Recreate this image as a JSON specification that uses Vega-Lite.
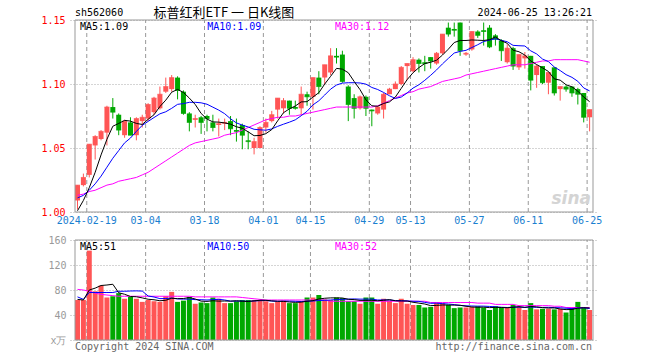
{
"$schema": "https://vega.github.io/schema/vega-lite/v6.json",
"width": 528, "height": 320,
"autosize": {"type": "none"},
"padding": {"left": 70, "top": 20, "right": 62, "bottom": 20},
"background": "#ffffff",
"config": {"view": {"stroke": null}, "text": {"font": "DejaVu Sans Mono", "fontSize": 10}, "axis": {"labelFont": "DejaVu Sans Mono", "labelFontSize": 10}},
"data": {"values": [
{"i":0,"o":1.009,"h":1.021,"l":1.002,"c":1.021,"v":64,"ma5":1.001,"ma10":1.011,"ma30":1.013,"vma5":65,"vma10":69,"vma30":81},
{"i":1,"o":1.021,"h":1.030,"l":1.020,"c":1.027,"v":64,"ma5":1.009,"ma10":1.013,"ma30":1.014,"vma5":64,"vma10":65,"vma30":80},
{"i":2,"o":1.029,"h":1.053,"l":1.027,"c":1.053,"v":143,"ma5":1.019,"ma10":1.017,"ma30":1.016,"vma5":80,"vma10":76,"vma30":78,"lbl":"2024-02-19"},
{"i":3,"o":1.052,"h":1.060,"l":1.041,"c":1.059,"v":78,"ma5":1.031,"ma10":1.022,"ma30":1.017,"vma5":83,"vma10":76,"vma30":75},
{"i":4,"o":1.057,"h":1.064,"l":1.056,"c":1.063,"v":87,"ma5":1.0446,"ma10":1.028,"ma30":1.019,"vma5":87.2,"vma10":76,"vma30":73},
{"i":5,"o":1.062,"h":1.083,"l":1.052,"c":1.082,"v":68,"ma5":1.0568,"ma10":1.035,"ma30":1.021,"vma5":88,"vma10":76,"vma30":72},
{"i":6,"o":1.082,"h":1.089,"l":1.073,"c":1.078,"v":70,"ma5":1.067,"ma10":1.042,"ma30":1.022,"vma5":89.2,"vma10":76,"vma30":71},
{"i":7,"o":1.076,"h":1.077,"l":1.060,"c":1.064,"v":75,"ma5":1.0692,"ma10":1.048,"ma30":1.024,"vma5":75.6,"vma10":78,"vma30":70},
{"i":8,"o":1.060,"h":1.072,"l":1.058,"c":1.071,"v":66,"ma5":1.0716,"ma10":1.054,"ma30":1.025,"vma5":73.2,"vma10":78,"vma30":70},
{"i":9,"o":1.070,"h":1.074,"l":1.060,"c":1.060,"v":69,"ma5":1.071,"ma10":1.0578,"ma30":1.026,"vma5":69.6,"vma10":78.4,"vma30":70},
{"i":10,"o":1.060,"h":1.074,"l":1.056,"c":1.073,"v":66,"ma5":1.0692,"ma10":1.063,"ma30":1.027,"vma5":69.2,"vma10":78.6,"vma30":70},
{"i":11,"o":1.071,"h":1.076,"l":1.066,"c":1.074,"v":61,"ma5":1.0684,"ma10":1.0677,"ma30":1.029,"vma5":67.4,"vma10":78.3,"vma30":70},
{"i":12,"o":1.073,"h":1.085,"l":1.071,"c":1.084,"v":64,"ma5":1.0724,"ma10":1.0708,"ma30":1.031,"vma5":65.2,"vma10":70.4,"vma30":70,"lbl":"03-04"},
{"i":13,"o":1.078,"h":1.090,"l":1.076,"c":1.089,"v":62,"ma5":1.076,"ma10":1.0738,"ma30":1.034,"vma5":64.4,"vma10":68.8,"vma30":70},
{"i":14,"o":1.081,"h":1.098,"l":1.080,"c":1.092,"v":61,"ma5":1.0824,"ma10":1.0767,"ma30":1.037,"vma5":62.8,"vma10":66.2,"vma30":70},
{"i":15,"o":1.094,"h":1.105,"l":1.093,"c":1.098,"v":70,"ma5":1.0874,"ma10":1.0783,"ma30":1.040,"vma5":63.6,"vma10":66.4,"vma30":70},
{"i":16,"o":1.096,"h":1.107,"l":1.094,"c":1.105,"v":77,"ma5":1.0936,"ma10":1.081,"ma30":1.043,"vma5":66.8,"vma10":67.1,"vma30":70},
{"i":17,"o":1.105,"h":1.106,"l":1.088,"c":1.095,"v":61,"ma5":1.0958,"ma10":1.0841,"ma30":1.046,"vma5":66.2,"vma10":65.7,"vma30":70},
{"i":18,"o":1.094,"h":1.095,"l":1.076,"c":1.077,"v":63,"ma5":1.0934,"ma10":1.0847,"ma30":1.049,"vma5":66.4,"vma10":65.4,"vma30":70},
{"i":19,"o":1.077,"h":1.078,"l":1.063,"c":1.070,"v":69,"ma5":1.089,"ma10":1.0857,"ma30":1.052,"vma5":68,"vma10":65.4,"vma30":70},
{"i":20,"o":1.072,"h":1.076,"l":1.066,"c":1.073,"v":58,"ma5":1.084,"ma10":1.0857,"ma30":1.054,"vma5":65.6,"vma10":64.6,"vma30":69},
{"i":21,"o":1.074,"h":1.075,"l":1.061,"c":1.070,"v":60,"ma5":1.077,"ma10":1.0853,"ma30":1.055,"vma5":62.2,"vma10":64.5,"vma30":69},
{"i":22,"o":1.075,"h":1.076,"l":1.063,"c":1.073,"v":59,"ma5":1.0726,"ma10":1.0842,"ma30":1.056,"vma5":61.8,"vma10":64,"vma30":69,"lbl":"03-18"},
{"i":23,"o":1.070,"h":1.076,"l":1.063,"c":1.066,"v":68,"ma5":1.0704,"ma10":1.0819,"ma30":1.057,"vma5":62.8,"vma10":64.6,"vma30":69},
{"i":24,"o":1.068,"h":1.073,"l":1.059,"c":1.069,"v":66,"ma5":1.0702,"ma10":1.0796,"ma30":1.058,"vma5":62.2,"vma10":65.1,"vma30":69},
{"i":25,"o":1.069,"h":1.073,"l":1.064,"c":1.070,"v":59,"ma5":1.0696,"ma10":1.0768,"ma30":1.060,"vma5":62.4,"vma10":64,"vma30":69},
{"i":26,"o":1.071,"h":1.075,"l":1.060,"c":1.065,"v":59,"ma5":1.0686,"ma10":1.0728,"ma30":1.061,"vma5":62.2,"vma10":62.2,"vma30":69},
{"i":27,"o":1.064,"h":1.073,"l":1.055,"c":1.063,"v":62,"ma5":1.0666,"ma10":1.0696,"ma30":1.062,"vma5":62.8,"vma10":62.3,"vma30":69},
{"i":28,"o":1.068,"h":1.069,"l":1.049,"c":1.060,"v":64,"ma5":1.0654,"ma10":1.0679,"ma30":1.064,"vma5":62,"vma10":62.4,"vma30":68},
{"i":29,"o":1.056,"h":1.063,"l":1.049,"c":1.055,"v":64,"ma5":1.0626,"ma10":1.0664,"ma30":1.066,"vma5":61.6,"vma10":61.9,"vma30":67},
{"i":30,"o":1.050,"h":1.058,"l":1.045,"c":1.055,"v":64,"ma5":1.0596,"ma10":1.0646,"ma30":1.068,"vma5":62.6,"vma10":62.5,"vma30":66},
{"i":31,"o":1.050,"h":1.067,"l":1.050,"c":1.066,"v":64,"ma5":1.0598,"ma10":1.0642,"ma30":1.070,"vma5":63.6,"vma10":62.9,"vma30":65},
{"i":32,"o":1.066,"h":1.073,"l":1.062,"c":1.070,"v":62,"ma5":1.0612,"ma10":1.0639,"ma30":1.072,"vma5":63.6,"vma10":63.2,"vma30":64,"lbl":"04-01"},
{"i":33,"o":1.071,"h":1.079,"l":1.070,"c":1.076,"v":59,"ma5":1.0644,"ma10":1.0649,"ma30":1.073,"vma5":62.6,"vma10":62.3,"vma30":64},
{"i":34,"o":1.080,"h":1.089,"l":1.073,"c":1.089,"v":61,"ma5":1.0712,"ma10":1.0669,"ma30":1.074,"vma5":62,"vma10":61.8,"vma30":64},
{"i":35,"o":1.081,"h":1.089,"l":1.077,"c":1.087,"v":63,"ma5":1.0776,"ma10":1.0686,"ma30":1.074,"vma5":61.8,"vma10":62.2,"vma30":64},
{"i":36,"o":1.087,"h":1.087,"l":1.076,"c":1.081,"v":59,"ma5":1.0806,"ma10":1.0702,"ma30":1.075,"vma5":60.8,"vma10":62.2,"vma30":64},
{"i":37,"o":1.082,"h":1.087,"l":1.080,"c":1.081,"v":59,"ma5":1.0828,"ma10":1.072,"ma30":1.075,"vma5":60.2,"vma10":61.9,"vma30":64},
{"i":38,"o":1.081,"h":1.098,"l":1.076,"c":1.092,"v":61,"ma5":1.086,"ma10":1.0752,"ma30":1.076,"vma5":60.6,"vma10":61.6,"vma30":64},
{"i":39,"o":1.092,"h":1.094,"l":1.083,"c":1.090,"v":68,"ma5":1.0862,"ma10":1.0787,"ma30":1.077,"vma5":62,"vma10":62,"vma30":64},
{"i":40,"o":1.090,"h":1.105,"l":1.080,"c":1.105,"v":68,"ma5":1.0898,"ma10":1.0837,"ma30":1.078,"vma5":63,"vma10":62.4,"vma30":64,"lbl":"04-15"},
{"i":41,"o":1.105,"h":1.110,"l":1.092,"c":1.098,"v":72,"ma5":1.0932,"ma10":1.0869,"ma30":1.079,"vma5":65.6,"vma10":63.2,"vma30":64},
{"i":42,"o":1.105,"h":1.115,"l":1.100,"c":1.115,"v":65,"ma5":1.1,"ma10":1.0914,"ma30":1.080,"vma5":66.8,"vma10":63.5,"vma30":64},
{"i":43,"o":1.109,"h":1.128,"l":1.107,"c":1.122,"v":64,"ma5":1.106,"ma10":1.096,"ma30":1.081,"vma5":67.4,"vma10":64,"vma30":62},
{"i":44,"o":1.122,"h":1.128,"l":1.116,"c":1.121,"v":68,"ma5":1.1122,"ma10":1.0992,"ma30":1.082,"vma5":67.4,"vma10":64.7,"vma30":62},
{"i":45,"o":1.123,"h":1.126,"l":1.101,"c":1.102,"v":67,"ma5":1.1116,"ma10":1.1007,"ma30":1.082,"vma5":67.2,"vma10":65.1,"vma30":62},
{"i":46,"o":1.098,"h":1.099,"l":1.071,"c":1.084,"v":62,"ma5":1.1088,"ma10":1.101,"ma30":1.082,"vma5":65.2,"vma10":65.4,"vma30":62},
{"i":47,"o":1.089,"h":1.092,"l":1.073,"c":1.081,"v":62,"ma5":1.102,"ma10":1.101,"ma30":1.082,"vma5":64.6,"vma10":65.7,"vma30":62},
{"i":48,"o":1.081,"h":1.091,"l":1.080,"c":1.090,"v":58,"ma5":1.0956,"ma10":1.1008,"ma30":1.082,"vma5":63.4,"vma10":65.4,"vma30":62},
{"i":49,"o":1.090,"h":1.091,"l":1.075,"c":1.081,"v":68,"ma5":1.0876,"ma10":1.0999,"ma30":1.082,"vma5":63.4,"vma10":65.4,"vma30":62},
{"i":50,"o":1.080,"h":1.080,"l":1.067,"c":1.079,"v":68,"ma5":1.083,"ma10":1.0973,"ma30":1.082,"vma5":63.6,"vma10":65.4,"vma30":62,"lbl":"04-29"},
{"i":51,"o":1.077,"h":1.083,"l":1.076,"c":1.082,"v":58,"ma5":1.0826,"ma10":1.0957,"ma30":1.083,"vma5":62.8,"vma10":64,"vma30":62},
{"i":52,"o":1.080,"h":1.093,"l":1.073,"c":1.092,"v":66,"ma5":1.0848,"ma10":1.0934,"ma30":1.085,"vma5":63.6,"vma10":64.1,"vma30":62},
{"i":53,"o":1.092,"h":1.097,"l":1.092,"c":1.096,"v":63,"ma5":1.086,"ma10":1.0908,"ma30":1.087,"vma5":64.6,"vma10":64,"vma30":62},
{"i":54,"o":1.096,"h":1.102,"l":1.096,"c":1.100,"v":59,"ma5":1.0898,"ma10":1.0887,"ma30":1.089,"vma5":62.8,"vma10":63.1,"vma30":62},
{"i":55,"o":1.100,"h":1.114,"l":1.099,"c":1.113,"v":66,"ma5":1.0966,"ma10":1.0898,"ma30":1.091,"vma5":62.4,"vma10":63,"vma30":62},
{"i":56,"o":1.114,"h":1.116,"l":1.103,"c":1.116,"v":58,"ma5":1.1034,"ma10":1.093,"ma30":1.093,"vma5":62.4,"vma10":62.6,"vma30":62},
{"i":57,"o":1.110,"h":1.121,"l":1.109,"c":1.119,"v":56,"ma5":1.1088,"ma10":1.0968,"ma30":1.094,"vma5":60.4,"vma10":62,"vma30":62,"lbl":"05-13"},
{"i":58,"o":1.119,"h":1.120,"l":1.109,"c":1.116,"v":56,"ma5":1.1128,"ma10":1.0994,"ma30":1.096,"vma5":59,"vma10":61.8,"vma30":62},
{"i":59,"o":1.117,"h":1.122,"l":1.110,"c":1.116,"v":52,"ma5":1.116,"ma10":1.1029,"ma30":1.097,"vma5":57.6,"vma10":60.2,"vma30":62},
{"i":60,"o":1.121,"h":1.121,"l":1.112,"c":1.118,"v":53,"ma5":1.117,"ma10":1.1068,"ma30":1.098,"vma5":55,"vma10":58.7,"vma30":60},
{"i":61,"o":1.116,"h":1.125,"l":1.115,"c":1.124,"v":60,"ma5":1.1186,"ma10":1.111,"ma30":1.100,"vma5":55.4,"vma10":58.9,"vma30":60},
{"i":62,"o":1.124,"h":1.139,"l":1.123,"c":1.139,"v":59,"ma5":1.1226,"ma10":1.1157,"ma30":1.102,"vma5":56,"vma10":58.2,"vma30":60},
{"i":63,"o":1.144,"h":1.148,"l":1.137,"c":1.139,"v":56,"ma5":1.1272,"ma10":1.12,"ma30":1.103,"vma5":56,"vma10":57.5,"vma30":60},
{"i":64,"o":1.143,"h":1.148,"l":1.137,"c":1.142,"v":51,"ma5":1.1324,"ma10":1.1242,"ma30":1.104,"vma5":55.8,"vma10":56.7,"vma30":60},
{"i":65,"o":1.148,"h":1.148,"l":1.122,"c":1.126,"v":52,"ma5":1.134,"ma10":1.1255,"ma30":1.105,"vma5":55.6,"vma10":55.3,"vma30":60},
{"i":66,"o":1.123,"h":1.125,"l":1.122,"c":1.124,"v":52,"ma5":1.134,"ma10":1.1263,"ma30":1.107,"vma5":54,"vma10":54.7,"vma30":60},
{"i":67,"o":1.127,"h":1.141,"l":1.126,"c":1.141,"v":53,"ma5":1.1344,"ma10":1.1285,"ma30":1.108,"vma5":52.8,"vma10":54.4,"vma30":60,"lbl":"05-27"},
{"i":68,"o":1.141,"h":1.142,"l":1.136,"c":1.138,"v":54,"ma5":1.1342,"ma10":1.1307,"ma30":1.109,"vma5":52.4,"vma10":54.2,"vma30":59},
{"i":69,"o":1.142,"h":1.148,"l":1.130,"c":1.141,"v":52,"ma5":1.134,"ma10":1.1332,"ma30":1.110,"vma5":52.6,"vma10":54.2,"vma30":59},
{"i":70,"o":1.144,"h":1.146,"l":1.128,"c":1.129,"v":48,"ma5":1.1346,"ma10":1.1343,"ma30":1.111,"vma5":51.8,"vma10":53.7,"vma30":59},
{"i":71,"o":1.138,"h":1.139,"l":1.130,"c":1.135,"v":54,"ma5":1.1368,"ma10":1.1354,"ma30":1.112,"vma5":52.2,"vma10":53.1,"vma30":57},
{"i":72,"o":1.134,"h":1.135,"l":1.118,"c":1.126,"v":52,"ma5":1.1338,"ma10":1.1341,"ma30":1.113,"vma5":52,"vma10":52.4,"vma30":57},
{"i":73,"o":1.117,"h":1.131,"l":1.116,"c":1.128,"v":52,"ma5":1.1318,"ma10":1.133,"ma30":1.114,"vma5":51.6,"vma10":52,"vma30":57},
{"i":74,"o":1.128,"h":1.129,"l":1.111,"c":1.114,"v":56,"ma5":1.1264,"ma10":1.1302,"ma30":1.115,"vma5":52.4,"vma10":52.5,"vma30":57},
{"i":75,"o":1.113,"h":1.123,"l":1.111,"c":1.123,"v":53,"ma5":1.1252,"ma10":1.1299,"ma30":1.115,"vma5":53.4,"vma10":52.6,"vma30":55},
{"i":76,"o":1.120,"h":1.125,"l":1.112,"c":1.122,"v":48,"ma5":1.1226,"ma10":1.1297,"ma30":1.115,"vma5":52.2,"vma10":52.2,"vma30":55},
{"i":77,"o":1.122,"h":1.122,"l":1.095,"c":1.103,"v":59,"ma5":1.118,"ma10":1.1259,"ma30":1.116,"vma5":53.6,"vma10":52.8,"vma30":55,"lbl":"06-11"},
{"i":78,"o":1.107,"h":1.115,"l":1.097,"c":1.114,"v":49,"ma5":1.1152,"ma10":1.1235,"ma30":1.117,"vma5":53,"vma10":52.3,"vma30":55},
{"i":79,"o":1.114,"h":1.114,"l":1.100,"c":1.101,"v":50,"ma5":1.1126,"ma10":1.1195,"ma30":1.118,"vma5":51.8,"vma10":52.1,"vma30":55},
{"i":80,"o":1.101,"h":1.109,"l":1.092,"c":1.109,"v":50,"ma5":1.1098,"ma10":1.1175,"ma30":1.118,"vma5":51.2,"vma10":52.3,"vma30":55},
{"i":81,"o":1.113,"h":1.113,"l":1.091,"c":1.093,"v":49,"ma5":1.104,"ma10":1.1133,"ma30":1.119,"vma5":51.4,"vma10":51.8,"vma30":54},
{"i":82,"o":1.096,"h":1.098,"l":1.087,"c":1.098,"v":50,"ma5":1.103,"ma10":1.1105,"ma30":1.119,"vma5":49.6,"vma10":51.6,"vma30":54},
{"i":83,"o":1.098,"h":1.099,"l":1.094,"c":1.096,"v":44,"ma5":1.0994,"ma10":1.1073,"ma30":1.119,"vma5":48.6,"vma10":50.8,"vma30":52},
{"i":84,"o":1.098,"h":1.098,"l":1.090,"c":1.093,"v":51,"ma5":1.0978,"ma10":1.1052,"ma30":1.119,"vma5":48.8,"vma10":50.3,"vma30":52},
{"i":85,"o":1.096,"h":1.097,"l":1.084,"c":1.092,"v":61,"ma5":1.0944,"ma10":1.1021,"ma30":1.119,"vma5":51,"vma10":51.1,"vma30":52},
{"i":86,"o":1.093,"h":1.093,"l":1.070,"c":1.074,"v":52,"ma5":1.0898,"ma10":1.0969,"ma30":1.118,"vma5":51.6,"vma10":51.5,"vma30":52},
{"i":87,"o":1.074,"h":1.080,"l":1.063,"c":1.080,"v":48,"ma5":1.0862,"ma10":1.0946,"ma30":1.117,"vma5":51.2,"vma10":50.4,"vma30":52,"lbl":"06-25"}
]},
"encoding": {"x": {"field": "i", "type": "quantitative", "scale": {"domain": [0, 88], "nice": false, "zero": false}, "axis": null}},
"layer": [
{"layer": [
 {"transform": [{"filter": "datum.lbl"}], "mark": {"type": "rule", "color": "#999999", "strokeDash": [4, 3]},
  "encoding": {"y": {"datum": 1.0, "type": "quantitative", "axis": null}, "y2": {"datum": 1.15}}},
 {"mark": {"type": "rule", "xOffset": 2.5, "strokeWidth": 1},
  "encoding": {"y": {"field": "l", "type": "quantitative", "scale": {"domain": [1.0, 1.15], "range": [192, 0], "nice": false, "zero": false},
    "axis": {"orient": "left", "values": [1.0, 1.05, 1.1, 1.15], "format": ".2f", "labelColor": "#ff0000", "labelPadding": 5, "labelFlush": false, "ticks": false, "domain": false, "grid": true, "gridColor": "#aaaaaa", "gridDash": [1, 2], "title": null}},
   "y2": {"field": "h"},
   "color": {"condition": {"test": "datum.c >= datum.o", "value": "#ff5555"}, "value": "#00a800"}}},
 {"mark": {"type": "bar", "width": 5, "xOffset": 2.5},
  "encoding": {"y": {"field": "o", "type": "quantitative", "axis": null}, "y2": {"field": "c"},
   "color": {"condition": {"test": "datum.c >= datum.o", "value": "#ff5555"}, "value": "#00a800"}}},
 {"mark": {"type": "tick", "orient": "horizontal", "size": 5, "thickness": 1, "xOffset": 2.5},
  "encoding": {"y": {"field": "c", "type": "quantitative", "axis": null},
   "color": {"condition": {"test": "datum.c >= datum.o", "value": "#ff5555"}, "value": "#00a800"}}},
 {"mark": {"type": "line", "color": "#ff00ff", "strokeWidth": 1, "xOffset": 2.5},
  "encoding": {"y": {"field": "ma30", "type": "quantitative", "axis": null}}},
 {"mark": {"type": "line", "color": "#0000ff", "strokeWidth": 1, "xOffset": 2.5},
  "encoding": {"y": {"field": "ma10", "type": "quantitative", "axis": null}}},
 {"mark": {"type": "line", "color": "#000000", "strokeWidth": 1, "xOffset": 2.5},
  "encoding": {"y": {"field": "ma5", "type": "quantitative", "axis": null}}},
 {"transform": [{"filter": "datum.i == 0"}], "mark": {"type": "rect", "filled": false, "color": "#999999", "strokeWidth": 1},
  "encoding": {"x": {"datum": 0, "type": "quantitative", "axis": null}, "x2": {"datum": 88},
   "y": {"datum": 1.0, "type": "quantitative", "axis": null}, "y2": {"datum": 1.15}}},
 {"transform": [{"filter": "datum.lbl"}], "mark": {"type": "text", "color": "#1a80d0", "align": "center", "baseline": "middle", "dy": 9},
  "encoding": {"y": {"datum": 1.0, "type": "quantitative", "axis": null}, "text": {"field": "lbl"}}},
 {"transform": [{"filter": "datum.i == 0"}], "mark": {"type": "text", "text": "MA5:1.09", "color": "#000000", "align": "left", "baseline": "middle", "dx": 5, "dy": 7},
  "encoding": {"x": {"datum": 0, "type": "quantitative", "axis": null}, "y": {"datum": 1.15, "type": "quantitative", "axis": null}}},
 {"transform": [{"filter": "datum.i == 0"}], "mark": {"type": "text", "text": "MA10:1.09", "color": "#0000ff", "align": "left", "baseline": "middle", "dy": 7},
  "encoding": {"x": {"datum": 22.45, "type": "quantitative", "axis": null}, "y": {"datum": 1.15, "type": "quantitative", "axis": null}}},
 {"transform": [{"filter": "datum.i == 0"}], "mark": {"type": "text", "text": "MA30:1.12", "color": "#ff00ff", "align": "left", "baseline": "middle", "dy": 7},
  "encoding": {"x": {"datum": 44.17, "type": "quantitative", "axis": null}, "y": {"datum": 1.15, "type": "quantitative", "axis": null}}},
 {"transform": [{"filter": "datum.i == 0"}], "mark": {"type": "text", "text": "sh562060", "color": "#000000", "align": "left", "baseline": "middle", "dy": -7},
  "encoding": {"x": {"datum": 0, "type": "quantitative", "axis": null}, "y": {"datum": 1.15, "type": "quantitative", "axis": null}}},
 {"transform": [{"filter": "datum.i == 0"}], "mark": {"type": "text", "text": "标普红利ETF 一 日K线图", "font": "Noto Sans CJK SC", "fontSize": 13, "color": "#000000", "align": "left", "baseline": "middle", "dy": -7},
  "encoding": {"x": {"datum": 13.33, "type": "quantitative", "axis": null}, "y": {"datum": 1.15, "type": "quantitative", "axis": null}}},
 {"transform": [{"filter": "datum.i == 0"}], "mark": {"type": "text", "text": "2024-06-25 13:26:21", "color": "#000000", "align": "right", "baseline": "middle", "dx": -1, "dy": -7},
  "encoding": {"x": {"datum": 88, "type": "quantitative", "axis": null}, "y": {"datum": 1.15, "type": "quantitative", "axis": null}}},
 {"transform": [{"filter": "datum.i == 0"}], "mark": {"type": "text", "text": "sina", "font": "DejaVu Sans", "fontSize": 17, "fontStyle": "italic", "fontWeight": "bold", "color": "#d4d4d4", "align": "right", "baseline": "middle", "dx": -2, "dy": -13},
  "encoding": {"x": {"datum": 88, "type": "quantitative", "axis": null}, "y": {"datum": 1.0, "type": "quantitative", "axis": null}}}
], "resolve": {"axis": {"y": "independent"}}},
{"layer": [
 {"transform": [{"filter": "datum.lbl"}], "mark": {"type": "rule", "color": "#999999", "strokeDash": [4, 3]},
  "encoding": {"y": {"datum": 0, "type": "quantitative", "axis": null}, "y2": {"datum": 160}}},
 {"mark": {"type": "bar", "width": 5, "xOffset": 2.5},
  "encoding": {"y": {"field": "v", "type": "quantitative", "scale": {"domain": [0, 160], "range": [320, 220], "nice": false, "zero": false},
    "axis": {"orient": "left", "values": [0, 40, 80, 120, 160], "labelExpr": "datum.value == 0 ? 'x万' : datum.label", "labelColor": "#999999", "labelPadding": 4, "labelFlush": false, "ticks": false, "domain": false, "grid": true, "gridColor": "#aaaaaa", "gridDash": [1, 2], "title": null}},
   "y2": {"datum": 0},
   "color": {"condition": {"test": "datum.c >= datum.o", "value": "#ff5555"}, "value": "#00a800"}}},
 {"mark": {"type": "line", "color": "#ff00ff", "strokeWidth": 1, "xOffset": 2.5},
  "encoding": {"y": {"field": "vma30", "type": "quantitative", "axis": null}}},
 {"mark": {"type": "line", "color": "#0000ff", "strokeWidth": 1, "xOffset": 2.5},
  "encoding": {"y": {"field": "vma10", "type": "quantitative", "axis": null}}},
 {"mark": {"type": "line", "color": "#000000", "strokeWidth": 1, "xOffset": 2.5},
  "encoding": {"y": {"field": "vma5", "type": "quantitative", "axis": null}}},
 {"transform": [{"filter": "datum.i == 0"}], "mark": {"type": "rect", "filled": false, "color": "#999999", "strokeWidth": 1},
  "encoding": {"x": {"datum": 0, "type": "quantitative", "axis": null}, "x2": {"datum": 88},
   "y": {"datum": 0, "type": "quantitative", "axis": null}, "y2": {"datum": 160}}},
 {"transform": [{"filter": "datum.i == 0"}], "mark": {"type": "text", "text": "MA5:51", "color": "#000000", "align": "left", "baseline": "middle", "dx": 5, "dy": 7},
  "encoding": {"x": {"datum": 0, "type": "quantitative", "axis": null}, "y": {"datum": 160, "type": "quantitative", "axis": null}}},
 {"transform": [{"filter": "datum.i == 0"}], "mark": {"type": "text", "text": "MA10:50", "color": "#0000ff", "align": "left", "baseline": "middle", "dy": 7},
  "encoding": {"x": {"datum": 22.45, "type": "quantitative", "axis": null}, "y": {"datum": 160, "type": "quantitative", "axis": null}}},
 {"transform": [{"filter": "datum.i == 0"}], "mark": {"type": "text", "text": "MA30:52", "color": "#ff00ff", "align": "left", "baseline": "middle", "dy": 7},
  "encoding": {"x": {"datum": 44.17, "type": "quantitative", "axis": null}, "y": {"datum": 160, "type": "quantitative", "axis": null}}},
 {"transform": [{"filter": "datum.i == 0"}], "mark": {"type": "text", "text": "Copyright 2024 SINA.COM", "color": "#666666", "align": "left", "baseline": "middle", "dy": 7},
  "encoding": {"x": {"datum": 0, "type": "quantitative", "axis": null}, "y": {"datum": 0, "type": "quantitative", "axis": null}}},
 {"transform": [{"filter": "datum.i == 0"}], "mark": {"type": "text", "text": "http://finance.sina.com.cn", "color": "#666666", "align": "right", "baseline": "middle", "dx": -1, "dy": 7},
  "encoding": {"x": {"datum": 88, "type": "quantitative", "axis": null}, "y": {"datum": 0, "type": "quantitative", "axis": null}}}
], "resolve": {"axis": {"y": "independent"}}}
],
"resolve": {"scale": {"y": "independent"}}
}
